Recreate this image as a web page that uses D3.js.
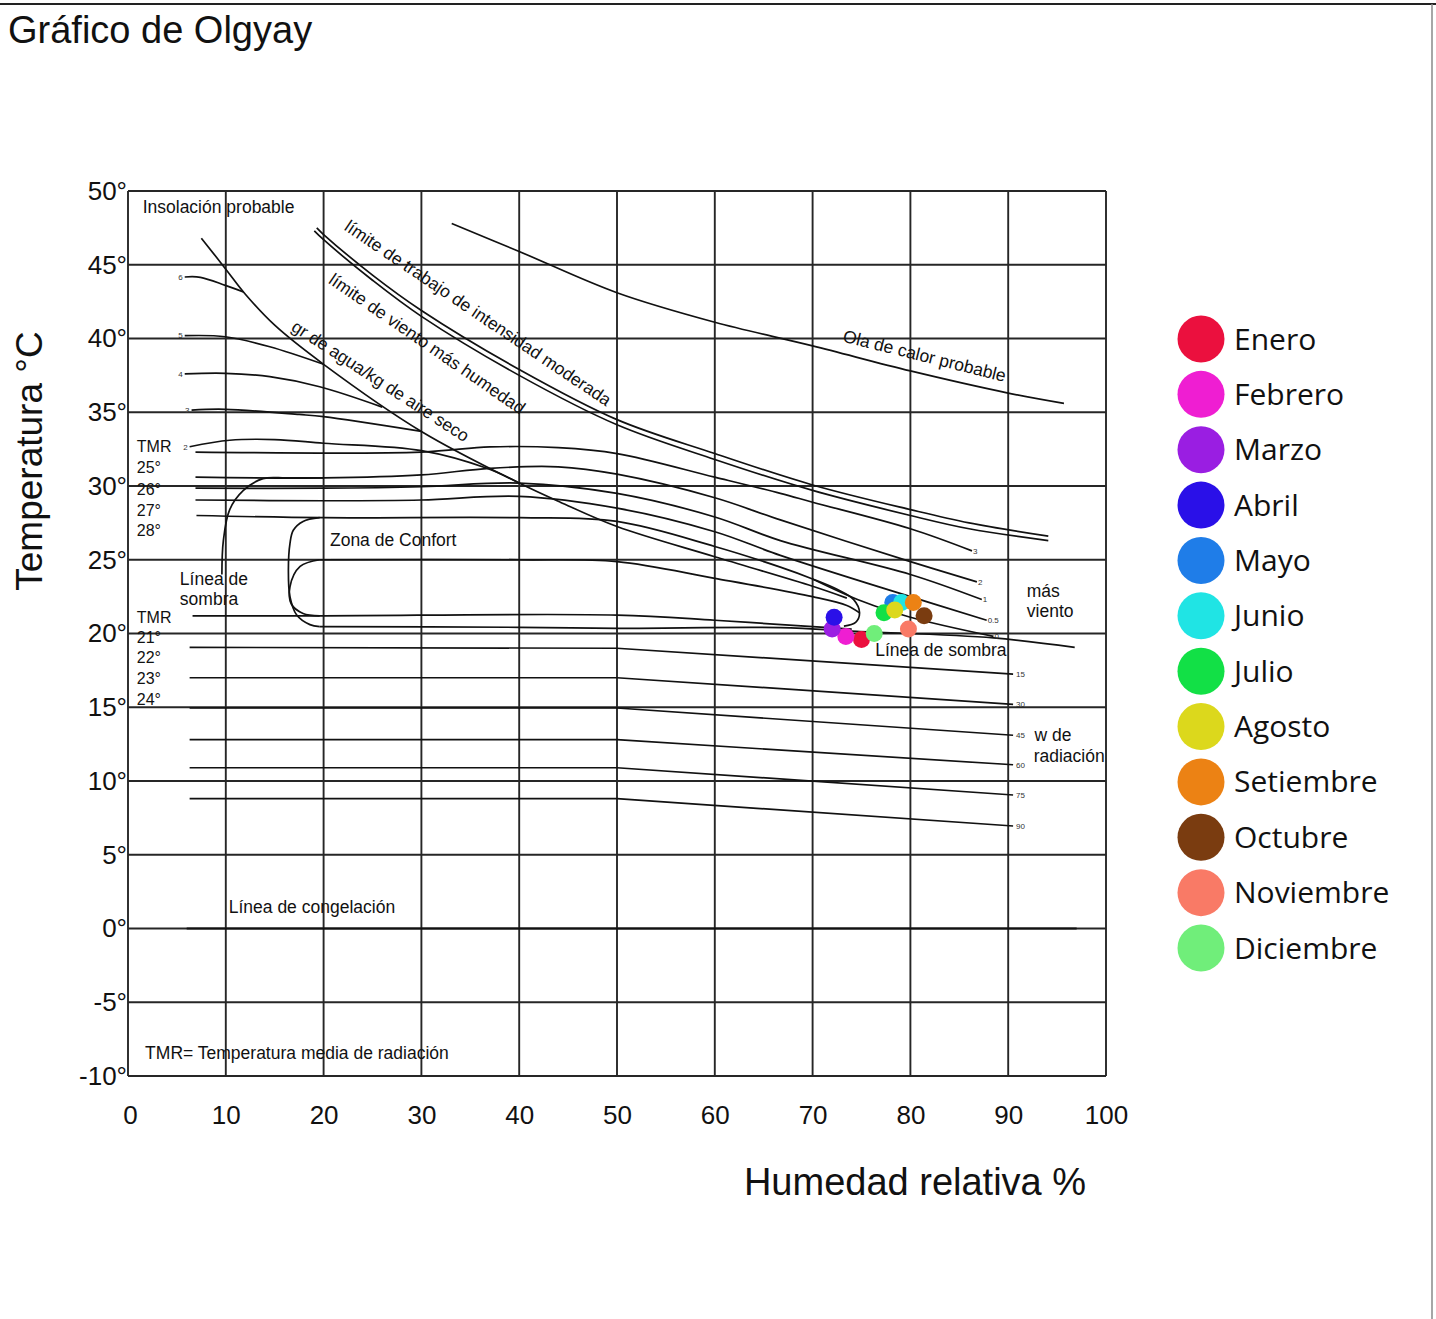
<!DOCTYPE html>
<html><head><meta charset="utf-8">
<script src="https://cdn.jsdelivr.net/npm/d3@7"></script>
<style>
body{margin:0;background:#fff;}
svg{display:block;font-family:"Liberation Sans",Arial,sans-serif;}
</style></head><body>
<svg id="chart" width="1436" height="1319"></svg>
<script>
// ---------- data ----------
const months = ["Enero","Febrero","Marzo","Abril","Mayo","Junio","Julio","Agosto","Setiembre","Octubre","Noviembre","Diciembre"];
const monthColors = ["#eb103e","#ef1ed2","#9a1ee2","#2a10e8","#1f7de8","#20e4e4","#12e046","#dcd81c","#ec8214","#7a3c10","#f97a66","#70ee7a"];
const humidity = [75.0, 73.4, 72.0, 72.2, 78.2, 79.1, 77.3, 78.4, 80.3, 81.4, 79.8, 76.3];
const temperature = [19.6, 19.8, 20.3, 21.1, 22.1, 22.1, 21.4, 21.6, 22.1, 21.2, 20.3, 20.0];
const humidityTicks = [0,10,20,30,40,50,60,70,80,90,100];
const temperatureTicks = [-10,-5,0,5,10,15,20,25,30,35,40,45,50];

// background chart curves [humedad %, temperatura °C]
const olaCalor = [[33.1,47.8],[40,45.9],[50,43.1],[60,41.1],[70,39.5],[80,37.8],[90,36.3],[95.7,35.6]];
const limiteTrabajo = [[19.3,47.5],[20,47.05],[25,44.3],[30,41.9],[40,37.9],[50,34.5],[60,32.2],[70,30.07],[80,28.4],[86,27.5],[94.1,26.6]];
const limiteViento = [[19.05,47.3],[20,46.7],[25,43.95],[30,41.5],[40,37.5],[50,34.15],[60,31.8],[70,29.7],[80,28.0],[86,27.1],[94.1,26.3]];
const aguaDiagonal = [[7.5,46.8],[10,44.7],[12,43.0],[15,40.9],[20,38.25],[30,33.7],[40,30.2],[44.2,28.9],[50,27.25],[60,25.2],[70,23.2],[73.5,22.4]];
const agua6 = [[5.8,44.17],[7.4,44.15],[9.95,43.6],[11.8,43.15]];
const agua5 = [[5.8,40.19],[9.95,40.12],[14.5,39.44],[20,38.25]];
const agua4 = [[5.8,37.6],[9.95,37.64],[14.5,37.41],[19.6,36.73],[26,35.35]];
const agua3 = [[6.5,35.15],[9.95,35.2],[17.5,34.85],[20,34.7],[30,33.7]];
const agua2 = [[6.3,32.66],[10.4,33.1],[15,33.15],[20,32.9],[30,32.4],[36.7,31.2],[40,30.2]];
const viento3 = [[6.9,32.3],[30,32.3],[37,32.65],[44,32.6],[50,32.2],[60,30.6],[66.7,29.5],[70,28.9],[80,27.1],[86.3,25.6]];
const viento2 = [[6.9,30.6],[20,30.55],[30,30.75],[37,31.2],[44,31.3],[50,30.8],[60,29.2],[66.7,27.7],[80,24.87],[86.8,23.5]];
const viento1 = [[6.9,29.85],[20,29.85],[30,29.95],[40,30.2],[50,29.5],[60,27.9],[66.7,26.3],[80,24.0],[87.3,22.3]];
const viento05 = [[6.9,29.05],[20,29.0],[30,29.05],[40,29.3],[50,28.5],[60,26.9],[66.7,25.3],[80,22.5],[87.8,20.9]];
const viento0 = [[70,23.7],[75,22.2],[80,21.1],[88.5,19.8]];
const confortExteriorSup = [[7,28.0],[20,27.85],[40,27.85],[50,27.6],[60,25.9],[66.7,24.5],[70,23.7],[72.5,23.0],[74.2,22.3],[74.8,21.4],[74.4,20.75],[73.2,20.5]];
const confortExteriorEsq = [[19.6,27.85],[17.9,27.6],[16.9,27.0],[16.56,26.1],[16.4,24.3],[16.56,22.5],[17.25,21.25],[18.6,20.6],[19.6,20.47]];
const lineaSombraInf = [[19.6,20.47],[40,20.42],[50,20.35],[66.7,20.4],[74.5,20.15],[88.5,19.7],[96.8,19.06]];
const confortInteriorSup = [[19.6,25.0],[40,25.0],[50,24.87],[60,23.74],[70,22.5],[73.5,21.9],[74.8,21.4]];
const confortInteriorEsq = [[19.6,25.0],[17.6,24.55],[16.56,23.17],[16.7,22.0],[17.9,21.36],[19.6,21.2]];
const tmrInferior = [[6.6,21.2],[20,21.2],[50,21.25],[60,20.9],[70,20.46],[74,20.3]];
const lineaSombraSup = [[9.6,24.0],[9.75,26.3],[10.4,28.4],[11.8,29.7],[13.8,30.5],[16.2,30.55],[20,30.55]];
const radiacion15 = [[6.3,19.06],[50,19.0],[90.5,17.25]];
const radiacion30 = [[6.3,17.0],[50,17.0],[90.5,15.2]];
const radiacion45 = [[6.3,14.95],[50,14.95],[90.5,13.1]];
const radiacion60 = [[6.3,12.8],[50,12.8],[90.5,11.1]];
const radiacion75 = [[6.3,10.9],[50,10.9],[90.5,9.05]];
const radiacion90 = [[6.3,8.8],[50,8.8],[90.5,6.95]];
const congelacion = [[6,0],[97,0]];

const aguaLabels = ["6","5","4","3","2"];
const vientoLabels = ["3","2","1","0.5","0"];
const radiacionLabels = ["15","30","45","60","75","90"];
const tmrLabelsTop = ["25°","26°","27°","28°"];
const tmrLabelsBottom = ["21°","22°","23°","24°"];

// ---------- drawing ----------
const svg = d3.select("#chart");
const x = d3.scaleLinear().domain([0,100]).range([128,1106]);
const y = d3.scaleLinear().domain([-10,50]).range([1076,191]);
const smooth = d3.line().x(d=>x(d[0])).y(d=>y(d[1])).curve(d3.curveCatmullRom.alpha(0.5));
const straight = d3.line().x(d=>x(d[0])).y(d=>y(d[1]));

// page frame
svg.append("line").attr("x1",0).attr("x2",1436).attr("y1",4).attr("y2",4).attr("stroke","#222").attr("stroke-width",2);
svg.append("line").attr("x1",1432).attr("x2",1432).attr("y1",4).attr("y2",1319).attr("stroke","#888").attr("stroke-width",1.5);

svg.append("text").attr("x",8).attr("y",43).attr("font-size",38).attr("fill","#111").text("Gráfico de Olgyay");

// grid
const grid = svg.append("g").attr("stroke","#262626").attr("stroke-width",1.9);
grid.selectAll("line.v").data(humidityTicks).join("line")
  .attr("x1",d=>x(d)).attr("x2",d=>x(d)).attr("y1",y(50)).attr("y2",y(-10));
grid.selectAll("line.h").data(temperatureTicks).join("line")
  .attr("class","h").attr("x1",x(0)).attr("x2",x(100)).attr("y1",d=>y(d)).attr("y2",d=>y(d));

// axes
const yAxis = svg.append("g").attr("transform",`translate(${x(0)},0)`)
  .call(d3.axisLeft(y).tickValues(temperatureTicks).tickFormat(d=>d+"°").tickSize(0).tickPadding(1));
yAxis.select(".domain").remove();
yAxis.selectAll("text").attr("font-size",26).attr("fill","#111").attr("font-family","Liberation Sans, Arial, sans-serif");
const xAxis = svg.append("g").attr("transform",`translate(0,${y(-10)})`)
  .call(d3.axisBottom(x).tickValues(humidityTicks).tickFormat(d=>d).tickSize(0).tickPadding(30));
xAxis.select(".domain").remove();
xAxis.selectAll("text").attr("font-size",26).attr("fill","#111").attr("font-family","Liberation Sans, Arial, sans-serif")
  .attr("dx",(d)=>d===0?2:0);

svg.append("text").attr("transform","translate(42,461) rotate(-90)").attr("text-anchor","middle")
  .attr("font-size",37).attr("fill","#111").text("Temperatura °C");
svg.append("text").attr("x",915).attr("y",1195).attr("text-anchor","middle")
  .attr("font-size",38).attr("fill","#111").text("Humedad relativa %");

// curves
const curves = svg.append("g").attr("fill","none").attr("stroke","#111").attr("stroke-width",1.7);
const smoothSet = [olaCalor,limiteTrabajo,limiteViento,aguaDiagonal,agua6,agua5,agua4,agua3,agua2,
  viento3,viento2,viento1,viento05,viento0,confortExteriorSup,confortExteriorEsq,lineaSombraInf,
  confortInteriorSup,confortInteriorEsq,tmrInferior,lineaSombraSup];
curves.selectAll("path.s").data(smoothSet).join("path").attr("class","s").attr("d",smooth);
const radSet = [radiacion15,radiacion30,radiacion45,radiacion60,radiacion75,radiacion90];
curves.selectAll("path.r").data(radSet).join("path").attr("class","r").attr("d",straight);
curves.append("path").attr("d",straight(congelacion)).attr("stroke-width",2.2);

// small curve labels
const tiny = svg.append("g").attr("font-size",8).attr("fill","#333");
[agua6,agua5,agua4,agua3,agua2].forEach((c,i)=>{
  tiny.append("text").attr("x",x(c[0][0])-2).attr("y",y(c[0][1])).attr("dy","0.35em").attr("text-anchor","end").text(aguaLabels[i]);
});
[viento3,viento2,viento1,viento05,viento0].forEach((c,i)=>{
  const e=c[c.length-1];
  tiny.append("text").attr("x",x(e[0])+1).attr("y",y(e[1])).attr("dy","0.35em").text(vientoLabels[i]);
});
radSet.forEach((c,i)=>{
  const e=c[c.length-1];
  tiny.append("text").attr("x",x(e[0])+3).attr("y",y(e[1])).attr("dy","0.35em").text(radiacionLabels[i]);
});

// annotations
const ann = svg.append("g").attr("font-size",17.5).attr("fill","#111");
function label(t,hx,ty,rot,size){
  const el = ann.append("text").attr("transform",`translate(${x(hx)},${y(ty)}) rotate(${rot||0})`).text(t);
  if(size) el.attr("font-size",size);
  return el;
}
label("Insolación probable",1.5,48.5);
label("límite de trabajo de intensidad moderada",22.0,47.4,34);
label("límite de viento más humedad",20.4,43.8,34.5);
label("gr de agua/kg de aire seco",16.6,40.6,33);
label("Ola de calor probable",73.0,39.8,14);
label("Zona de Confort",20.65,25.9);
label("Línea de",5.3,23.3);
label("sombra",5.3,21.9);
label("Línea de sombra",76.4,18.45);
label("más",91.9,22.5);
label("viento",91.9,21.1);
label("w de",92.7,12.7);
label("radiación",92.6,11.3);
label("Línea de congelación",10.3,1.05);
label("TMR= Temperatura media de radiación",1.75,-8.85);
label("TMR",0.9,32.3,0,16);
tmrLabelsTop.forEach((t,i)=>label(t,0.9,[30.9,29.4,28.0,26.6][i],0,16));
label("TMR",0.9,20.7,0,16);
tmrLabelsBottom.forEach((t,i)=>label(t,0.9,[19.35,18.0,16.6,15.15][i],0,16));

// monthly points
svg.append("g").selectAll("circle").data(months).join("circle")
  .attr("cx",(d,i)=>x(humidity[i])).attr("cy",(d,i)=>y(temperature[i]))
  .attr("r",8.5).attr("fill",(d,i)=>monthColors[i]);

// legend
const ly = d3.scalePoint().domain(months).range([339,948]);
const leg = svg.append("g");
leg.selectAll("circle").data(months).join("circle")
  .attr("cx",1201).attr("cy",d=>ly(d)).attr("r",23.5).attr("fill",(d,i)=>monthColors[i]);
leg.selectAll("text").data(months).join("text")
  .attr("x",1234).attr("y",d=>ly(d)).attr("dy","0.35em")
  .attr("font-family","Open Sans, sans-serif").attr("font-size",30).attr("fill","#111").text(d=>d);
</script>
</body></html>
